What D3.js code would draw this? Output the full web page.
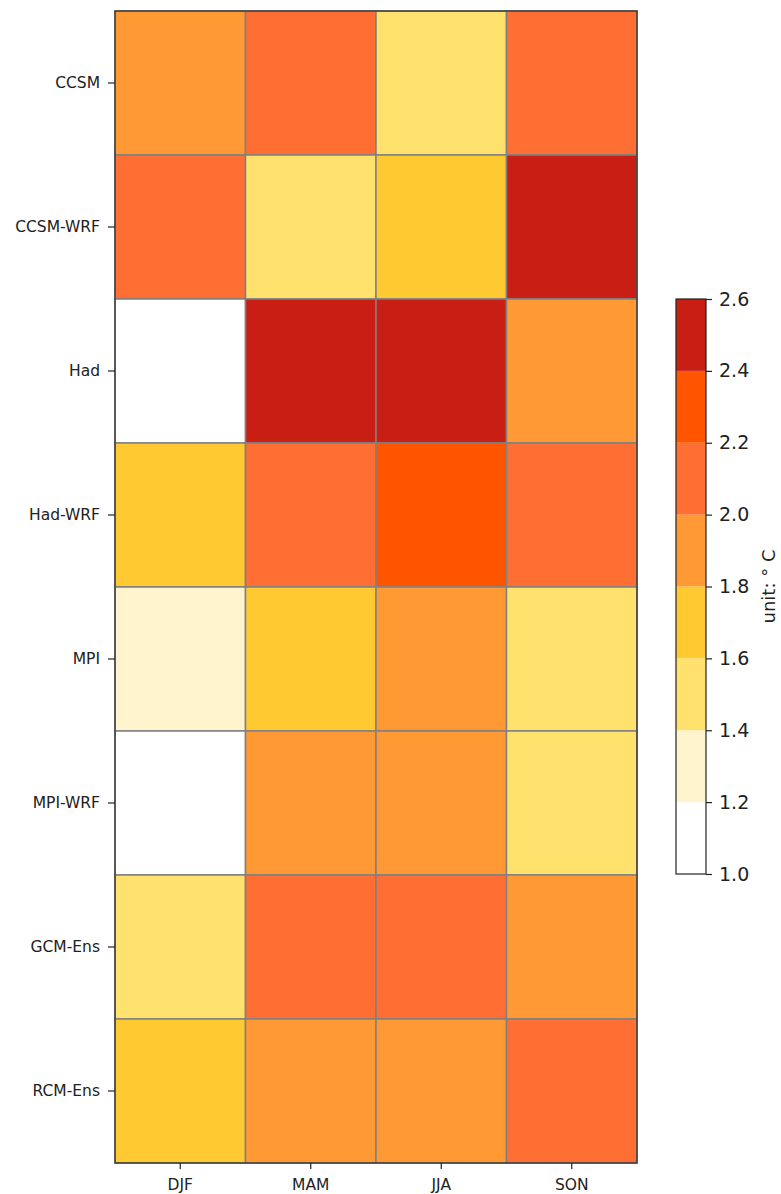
<!DOCTYPE html>
<html>
<head>
<meta charset="utf-8">
<script src="https://cdn.jsdelivr.net/npm/d3@7"></script>
<style>
  body { margin: 0; background: #fff; }
  svg { display: block; font-family: "DejaVu Sans", sans-serif; }
</style>
</head>
<body>
<div id="chart"></div>
<script>
// data
var models = ['CCSM', 'CCSM-WRF', 'Had', 'Had-WRF', 'MPI', 'MPI-WRF', 'GCM-Ens', 'RCM-Ens'];
var seasons = ['DJF', 'MAM', 'JJA', 'SON'];
var values = [
    [1.9, 2.1, 1.5, 2.1],
    [2.1, 1.5, 1.7, 2.5],
    [1.1, 2.5, 2.5, 1.9],
    [1.7, 2.1, 2.3, 2.1],
    [1.3, 1.7, 1.9, 1.5],
    [1.1, 1.9, 1.9, 1.5],
    [1.5, 2.1, 2.1, 1.9],
    [1.7, 1.9, 1.9, 2.1]
];
var levels = [1.0, 1.2, 1.4, 1.6, 1.8, 2.0, 2.2, 2.4, 2.6];
var levelColors = ['#ffffff', '#fff4cd', '#ffe16e', '#ffc931', '#ff9933', '#ff6e32', '#ff5500', '#c81e14'];
var cbTicks = ['1.0', '1.2', '1.4', '1.6', '1.8', '2.0', '2.2', '2.4', '2.6'];

var W = 781, H = 1194;
var plot = {left: 115, top: 11, right: 637, bottom: 1163};
var cb = {left: 676, right: 706, top: 299, bottom: 874};

var svg = d3.select('#chart').append('svg')
    .attr('width', W)
    .attr('height', H);

var x = d3.scaleBand().domain(seasons).range([plot.left, plot.right]).padding(0);
var y = d3.scaleBand().domain(models).range([plot.top, plot.bottom]).padding(0);
var color = d3.scaleThreshold().domain(levels.slice(1, -1)).range(levelColors);

var cells = [];
models.forEach(function(m, i) {
    seasons.forEach(function(s, j) {
	cells.push({model: m, season: s, v: values[i][j]});
    });
});

svg.append('g')
    .attr('class', 'cells')
    .selectAll('rect')
    .data(cells)
    .enter().append('rect')
    .attr('x', function(d) { return x(d.season); })
    .attr('y', function(d) { return y(d.model); })
    .attr('width', x.bandwidth())
    .attr('height', y.bandwidth())
    .attr('fill', function(d) { return color(d.v); })
    .attr('stroke', '#808080')
    .attr('stroke-width', 1.5);

// frame
svg.append('rect')
    .attr('x', plot.left)
    .attr('y', plot.top)
    .attr('width', plot.right - plot.left)
    .attr('height', plot.bottom - plot.top)
    .attr('fill', 'none')
    .attr('stroke', '#333')
    .attr('stroke-width', 1.3);

// axes
var xAxis = svg.append('g')
    .attr('transform', 'translate(0,' + plot.bottom + ')')
    .call(d3.axisBottom(x).tickSize(6).tickPadding(10));
var yAxis = svg.append('g')
    .attr('transform', 'translate(' + plot.left + ',0)')
    .call(d3.axisLeft(y).tickSize(7).tickPadding(8));

[xAxis, yAxis].forEach(function(a) {
    a.select('.domain').remove();
    a.selectAll('line').attr('stroke', '#222').attr('stroke-width', 1.2);
    a.selectAll('text')
	.attr('font-family', '"DejaVu Sans", sans-serif')
	.attr('font-size', 15.5)
	.attr('fill', '#222');
});

// colorbar
var cbY = d3.scaleLinear().domain([levels[0], levels[levels.length - 1]]).range([cb.bottom, cb.top]);
var bins = levelColors.map(function(c, i) { return {lo: levels[i], hi: levels[i + 1], c: c}; });

svg.append('g')
    .selectAll('rect')
    .data(bins)
    .enter().append('rect')
    .attr('x', cb.left)
    .attr('width', cb.right - cb.left)
    .attr('y', function(d) { return cbY(d.hi); })
    .attr('height', function(d) { return cbY(d.lo) - cbY(d.hi); })
    .attr('fill', function(d) { return d.c; });

svg.append('rect')
    .attr('x', cb.left)
    .attr('y', cb.top)
    .attr('width', cb.right - cb.left)
    .attr('height', cb.bottom - cb.top)
    .attr('fill', 'none')
    .attr('stroke', '#222')
    .attr('stroke-width', 1.2);

var cbAxis = svg.append('g')
    .attr('transform', 'translate(' + cb.right + ',0)')
    .call(d3.axisRight(cbY).tickValues(levels).tickFormat(function(d, i) { return cbTicks[i]; })
	  .tickSize(6).tickPadding(7));
cbAxis.select('.domain').remove();
cbAxis.selectAll('line').attr('stroke', '#222').attr('stroke-width', 1.2);
cbAxis.selectAll('text')
    .attr('font-family', '"DejaVu Sans", sans-serif')
    .attr('font-size', 19)
    .attr('fill', '#222');

svg.append('text')
    .attr('transform', 'translate(775,' + ((cb.top + cb.bottom) / 2) + ') rotate(-90)')
    .attr('text-anchor', 'middle')
    .attr('font-size', 18)
    .attr('fill', '#222')
    .text('unit: \u00b0 C');
</script>
</body>
</html>
